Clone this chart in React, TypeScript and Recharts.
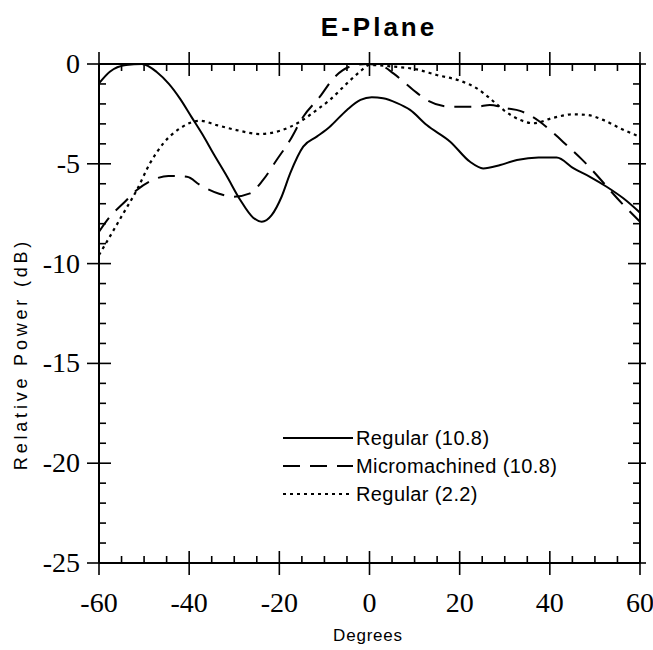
import React from 'react'
import { LineChart, Line, XAxis, YAxis, Legend, Label } from 'recharts'

// E-plane patterns, angle in degrees vs relative power in dB
const regular108Deg = [-60, -57.6, -54, -50.5, -47.2, -44.5, -42, -39.5, -37, -34.6, -31.7, -28.7, -25.8, -23.9, -21.7, -19.5, -17.6, -14.7, -11.7, -8.8, -5, -2, 0.5, 3, 6, 9, 12.7, 17.9, 22.3, 25.2, 29, 32.7, 37.5, 41.5, 45.3, 48.9, 52.6, 56.3, 60]
const regular108Db = [-0.97, -0.39, -0.05, 0, -0.4, -1.0, -1.75, -2.65, -3.55, -4.5, -5.6, -6.8, -7.7, -7.9, -7.57, -6.65, -5.48, -4.14, -3.64, -3.14, -2.3, -1.8, -1.67, -1.72, -1.95, -2.3, -3.06, -3.89, -4.9, -5.23, -5.06, -4.81, -4.68, -4.68, -5.23, -5.65, -6.15, -6.73, -7.45]

const micro108Deg = [-60, -57.6, -54.6, -51.6, -47.2, -44.6, -40.5, -37.6, -33.2, -30.2, -26.5, -23.6, -20.6, -17.6, -14.7, -11, -8, -4.3, -0.6, 3, 5.3, 9.7, 12.7, 17.9, 23.8, 26.7, 30.4, 33.4, 37.8, 40, 43.7, 47.1, 56.7, 60]
const micro108Db = [-8.4, -7.65, -6.98, -6.31, -5.73, -5.61, -5.65, -6.06, -6.51, -6.65, -6.48, -5.81, -4.81, -3.81, -2.64, -1.64, -0.72, -0.13, 0, -0.13, -0.47, -1.3, -1.8, -2.14, -2.14, -2.05, -2.22, -2.35, -2.89, -3.3, -4.06, -4.78, -7.15, -7.9]

const regular22Deg = [-60, -57.6, -54.6, -51.6, -48.7, -45.7, -42, -37.6, -33.9, -29.5, -24.3, -19.8, -15.4, -11.7, -8.8, -5, -2.1, 0, 5.3, 10.5, 14.9, 20.1, 23.8, 26.7, 29.7, 33.4, 36.3, 40.7, 45.2, 48.2, 51.8, 55.6, 60]
const regular22Db = [-9.57, -8.65, -7.48, -6.31, -4.98, -3.97, -3.22, -2.84, -3.06, -3.31, -3.51, -3.34, -2.89, -2.3, -1.8, -0.97, -0.38, -0.05, -0.13, -0.27, -0.55, -0.84, -1.22, -1.72, -2.3, -2.8, -2.97, -2.7, -2.52, -2.55, -2.8, -3.22, -3.65]

const xTicks = [-60, -55, -50, -45, -40, -35, -30, -25, -20, -15, -10, -5, 0, 5, 10, 15, 20, 25, 30, 35, 40, 45, 50, 55, 60]
const yTicks = [-25, -24, -23, -22, -21, -20, -19, -18, -17, -16, -15, -14, -13, -12, -11, -10, -9, -8, -7, -6, -5, -4, -3, -2, -1, 0]

const seriesNames = ['Regular (10.8)', 'Micromachined (10.8)', 'Regular (2.2)']
const dashes = ['', '17 10', '3 4']

const toRows = (deg: number[], db: number[]) => deg.map((d, i) => ({ deg: d, db: db[i] }))

const serif = '"Liberation Serif", "Times New Roman", serif'
const sans = '"Liberation Sans", Arial, sans-serif'

function BottomTick(props: any) {
  const { x, y, payload } = props
  const major = payload.value % 20 === 0
  return (
    <g>
      <line x1={x} x2={x} y1={major ? y - 12 : y - 7} y2={major ? y + 12 : y} stroke="#000" strokeWidth={1.6} />
      {major && (
        <text x={x} y={y + 49} textAnchor="middle" fontFamily={serif} fontSize={28} fill="#000">
          {payload.value}
        </text>
      )}
    </g>
  )
}

function TopTick(props: any) {
  const { x, y, payload } = props
  const major = payload.value % 20 === 0
  return <line x1={x} x2={x} y1={major ? y - 12 : y} y2={major ? y + 12 : y + 7} stroke="#000" strokeWidth={1.6} />
}

function LeftTick(props: any) {
  const { x, y, payload } = props
  const major = payload.value % 5 === 0
  return (
    <g>
      <line x1={major ? x - 12 : x} x2={major ? x + 12 : x + 7} y1={y} y2={y} stroke="#000" strokeWidth={1.6} />
      {major && (
        <text x={x - 19} y={y + 9} textAnchor="end" fontFamily={serif} fontSize={28} fill="#000">
          {payload.value}
        </text>
      )}
    </g>
  )
}

function RightTick(props: any) {
  const { x, y, payload } = props
  const major = payload.value % 5 === 0
  return <line x1={major ? x - 12 : x - 7} x2={major ? x + 6 : x} y1={y} y2={y} stroke="#000" strokeWidth={1.6} />
}

function LegendBox() {
  return (
    <div style={{ fontFamily: sans, fontSize: 20, color: '#000', letterSpacing: 0.4 }}>
      {seriesNames.map((name, i) => (
        <div key={name} style={{ display: 'flex', alignItems: 'center', height: 28 }}>
          <svg width={72} height={10} style={{ marginRight: 1 }}>
            <line x1={0} x2={70} y1={5} y2={5} stroke="#000" strokeWidth={2} strokeDasharray={dashes[i] || undefined} />
          </svg>
          <span>{name}</span>
        </div>
      ))}
    </div>
  )
}

export default function App() {
  return (
    <div style={{ position: 'absolute', left: 0, top: 0, width: 653, height: 650, background: '#fff' }}>
      <div
        style={{
          position: 'absolute',
          left: 0,
          top: 12,
          width: 758,
          textAlign: 'center',
          fontFamily: sans,
          fontWeight: 'bold',
          fontSize: 26,
          letterSpacing: 3,
        }}
      >
        E-Plane
      </div>
      <LineChart width={653} height={650} margin={{ top: 0, right: 0, bottom: 0, left: 0 }} style={{ overflow: 'visible' }}>
        <XAxis
          xAxisId="bottom"
          dataKey="deg"
          type="number"
          domain={[-60, 60]}
          ticks={xTicks}
          interval={0}
          allowDataOverflow
          height={87}
          tickSize={0}
          tickMargin={0}
          tickLine={false}
          tick={<BottomTick />}
          axisLine={{ stroke: '#000', strokeWidth: 2 }}
        >
          <Label
            content={() => (
              <text x={368} y={641} textAnchor="middle" fontFamily={sans} fontSize={17} letterSpacing={0.8} fill="#000">
                Degrees
              </text>
            )}
          />
        </XAxis>
        <XAxis
          xAxisId="top"
          orientation="top"
          dataKey="deg"
          type="number"
          domain={[-60, 60]}
          ticks={xTicks}
          interval={0}
          allowDataOverflow
          height={64}
          tickSize={0}
          tickMargin={0}
          tickLine={false}
          tick={<TopTick />}
          axisLine={{ stroke: '#000', strokeWidth: 2 }}
        />
        <YAxis
          yAxisId="left"
          type="number"
          domain={[-25, 0]}
          ticks={yTicks}
          interval={0}
          allowDataOverflow
          width={99}
          tickSize={0}
          tickMargin={0}
          tickLine={false}
          tick={<LeftTick />}
          axisLine={{ stroke: '#000', strokeWidth: 2 }}
        >
          <Label
            content={() => (
              <text
                x={21}
                y={354}
                transform="rotate(-90 21 354)"
                textAnchor="middle"
                dominantBaseline="central"
                fontFamily={sans}
                fontSize={18}
                letterSpacing={3.8}
                fill="#000"
              >
                Relative Power (dB)
              </text>
            )}
          />
        </YAxis>
        <YAxis
          yAxisId="right"
          orientation="right"
          type="number"
          domain={[-25, 0]}
          ticks={yTicks}
          interval={0}
          allowDataOverflow
          width={13}
          tickSize={0}
          tickMargin={0}
          tickLine={false}
          tick={<RightTick />}
          axisLine={{ stroke: '#000', strokeWidth: 2 }}
        />
        <Legend
          layout="vertical"
          align="center"
          verticalAlign="middle"
          content={() => <LegendBox />}
          wrapperStyle={{ left: 283, top: 424, width: 330 }}
        />
        <Line
          xAxisId="bottom"
          yAxisId="left"
          data={toRows(regular108Deg, regular108Db)}
          dataKey="db"
          name={seriesNames[0]}
          type="monotone"
          stroke="#000"
          strokeWidth={2}
          dot={false}
          isAnimationActive={false}
        />
        <Line
          xAxisId="bottom"
          yAxisId="left"
          data={toRows(micro108Deg, micro108Db)}
          dataKey="db"
          name={seriesNames[1]}
          type="monotone"
          stroke="#000"
          strokeWidth={2}
          strokeDasharray={dashes[1]}
          dot={false}
          isAnimationActive={false}
        />
        <Line
          xAxisId="bottom"
          yAxisId="left"
          data={toRows(regular22Deg, regular22Db)}
          dataKey="db"
          name={seriesNames[2]}
          type="monotone"
          stroke="#000"
          strokeWidth={2.2}
          strokeDasharray={dashes[2]}
          dot={false}
          isAnimationActive={false}
        />
      </LineChart>
    </div>
  )
}
